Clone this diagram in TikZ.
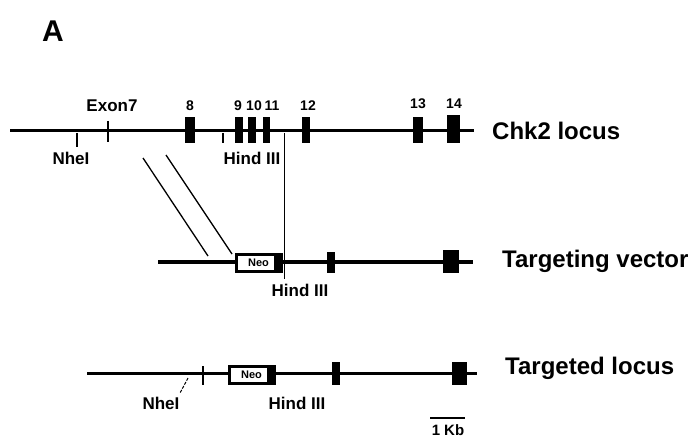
\documentclass[tikz,border=0pt]{standalone}
\usepackage{fontspec}
\setmainfont{Liberation Sans}
\begin{document}
\begin{tikzpicture}[x=1pt,y=-1pt,
  chrom/.style={line width=3pt},
  exon/.style={fill=black, inner sep=0pt, draw=none},
  tickln/.style={line width=1.3pt},
  lbl/.style={font=\fontsize{17}{17}\selectfont\bfseries, inner sep=0pt},
  num/.style={font=\fontsize{14}{14}\selectfont\bfseries, inner sep=0pt},
  ttl/.style={font=\fontsize{24}{24}\selectfont\bfseries, anchor=west, inner sep=0pt},
  neobox/.style={draw, line width=2.5pt, fill=white, inner sep=0pt, minimum width=44pt, minimum height=17pt, font=\fontsize{11}{11}\selectfont\bfseries}]
\useasboundingbox (0,0) rectangle (698,438);
\node[font=\fontsize{30}{30}\selectfont\bfseries, inner sep=0pt] (A) at (53,31) {A};

% ---------- Chk2 locus ----------
\coordinate (c1s) at (10,131);
\coordinate (c1e) at (474,131);
\draw[chrom] (c1s) -- (c1e);
\node[exon, minimum width=10pt, minimum height=26pt] (e8)  at (190,130) {};
\node[exon, minimum width=8pt,  minimum height=26pt] (e9)  at (239,130) {};
\node[exon, minimum width=8pt,  minimum height=26pt] (e10) at (252,130) {};
\node[exon, minimum width=7pt,  minimum height=26pt] (e11) at (266.5,130) {};
\node[exon, minimum width=8pt,  minimum height=26pt] (e12) at (306,130) {};
\node[exon, minimum width=10pt, minimum height=26pt] (e13) at (418,130) {};
\node[exon, minimum width=13pt, minimum height=28pt] (e14) at (453.5,129) {};
\node[num] (n8)  at (190,106) {8};
\node[num] (n9)  at (238,106) {9};
\node[num] (n10) at (254,106) {10};
\node[num] (n11) at (272,106) {11};
\node[num] (n12) at (308,106) {12};
\node[num] (n13) at (418,104) {13};
\node[num] (n14) at (454,104) {14};
\node[lbl] (ex7) at (112,106) {Exon7};
\coordinate (t7a) at (108,121);
\coordinate (t7b) at (108,142);
\draw[tickln] (t7a) -- (t7b);
\coordinate (nh1a) at (77,133);
\coordinate (nh1b) at (77,147);
\draw[tickln] (nh1a) -- (nh1b);
\node[lbl] (nhe1) at (71,158) {NheI};
\coordinate (h1a) at (223,133);
\coordinate (h1b) at (223,143);
\draw[tickln] (h1a) -- (h1b);
\node[lbl] (hind1) at (252,158) {Hind III};
\coordinate (v1) at (284,133);
\coordinate (v2) at (284,279);
\draw[line width=1pt] (v1) -- (v2);
\node[ttl] (chk) at (492,131) {Chk2 locus};

% diagonals
\coordinate (d1a) at (143,158);
\coordinate (d1b) at (208,256);
\coordinate (d2a) at (166,155);
\coordinate (d2b) at (232,254);
\draw[tickln] (d1a) -- (d1b);
\draw[tickln] (d2a) -- (d2b);

% ---------- Targeting vector ----------
\coordinate (tvs) at (158,262);
\coordinate (tve) at (473,262);
\draw[chrom, line width=3.5pt] (tvs) -- (tve);
\node[neobox] (neo1) at (258.5,263) {Neo};
\fill (274,253) rectangle (283,273);
\node[exon, minimum width=8pt,  minimum height=21pt] (tv11) at (331,262) {};
\node[exon, minimum width=16pt, minimum height=23pt] (tv14) at (451,261.5) {};
\node[lbl] (hind2) at (300,290) {Hind III};
\node[ttl] (tvl) at (502,261) {Targeting vector};

% ---------- Targeted locus ----------
\coordinate (tls) at (87,373);
\coordinate (tle) at (477,373);
\draw[chrom] (tls) -- (tle);
\coordinate (t3a) at (203,366);
\coordinate (t3b) at (203,385);
\draw[tickln] (t3a) -- (t3b);
\node[neobox] (neo2) at (251.5,375) {Neo};
\fill (267,365) rectangle (276,385);
\node[exon, minimum width=8pt,  minimum height=23pt] (tl11) at (336,373.5) {};
\node[exon, minimum width=15pt, minimum height=23pt] (tl14) at (459.5,373.5) {};
\coordinate (nh3a) at (188,378);
\coordinate (nh3b) at (180,393);
\draw[line width=1pt, dashed, dash pattern=on 3pt off 1.5pt] (nh3a) -- (nh3b);
\node[lbl] (nhe3) at (161,403) {NheI};
\node[lbl] (hind3) at (297,403) {Hind III};
\node[ttl] (tll) at (505,368) {Targeted locus};

% scale bar
\coordinate (sb1) at (430,418);
\coordinate (sb2) at (465,418);
\draw[line width=2pt] (sb1) -- (sb2);
\node[font=\fontsize{15}{15}\selectfont\bfseries, inner sep=0pt] (kb) at (448,430) {1 Kb};
\end{tikzpicture}
\end{document}
